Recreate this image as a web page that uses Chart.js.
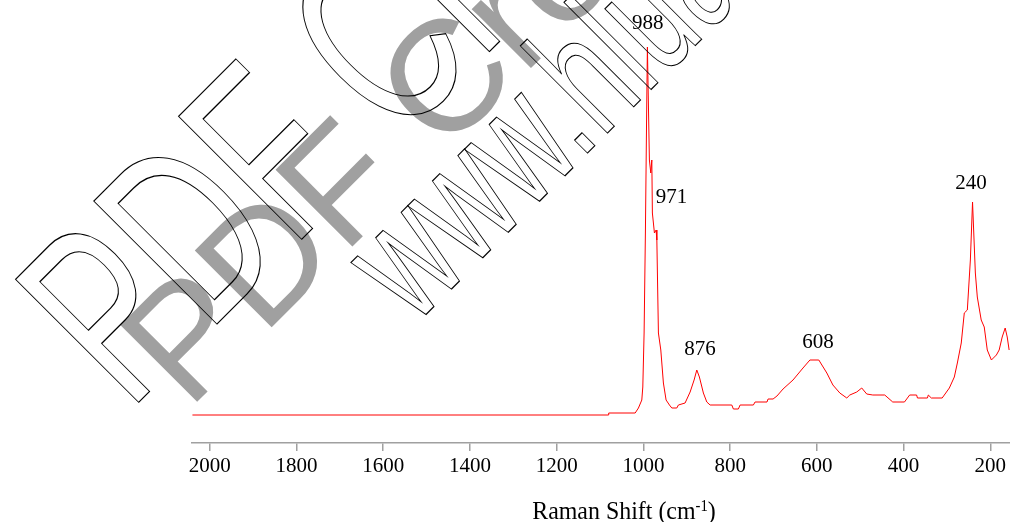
<!DOCTYPE html>
<html>
<head>
<meta charset="utf-8">
<title>Raman spectrum</title>
<script src="https://cdn.jsdelivr.net/npm/chart.js@4.4.1/dist/chart.umd.min.js"></script>
<style>
    html, body { margin: 0; padding: 0; background: #fff; }
    #chart-wrap { width: 1010px; height: 522px; position: relative; }
</style>
</head>
<body>
<div id="chart-wrap"><canvas id="spectrum" width="1010" height="522"></canvas></div>
<script>
// spectrum (Raman shift in cm-1, intensity in arbitrary units)
const wavenumbers = [
    2040, 1081, 1080, 1019, 1011.5, 1003.7, 1001.4, 998.4, 995.4, 992.2,
    990.8, 986.2, 983, 980.6, 979.3, 974.6, 970.7, 969, 965.4, 959.9,
    953.9, 947.7, 940, 934.5, 923, 919.3, 903.9, 892.3, 883.1, 876.9,
    870.9, 861.7, 853.8, 846.2, 796.2, 792.5, 781, 777, 746.4, 742.5,
    715, 712.5, 701, 692, 678, 655, 632, 616, 595.5, 577,
    563, 547, 531, 524, 508, 496.5, 485, 471, 443.5, 425,
    398, 386, 370, 368, 345, 343, 336, 311, 294.5, 283,
    276, 267, 260, 253, 246, 241, 234.5, 230, 221, 214,
    207, 197.5, 186, 179.6, 172.6, 165.7, 161, 156.6
];
const intensities = [
    28, 28, 30, 30, 35, 43, 56, 110, 210, 343,
    396, 283, 270, 283, 230, 210, 213, 203, 110, 93,
    60, 43, 38, 35, 35, 38, 40, 51, 63, 73,
    66, 50, 41, 38, 38, 34, 34, 38, 38, 41,
    41, 44, 44, 47, 54, 63, 75, 83, 83, 70,
    58, 50, 45, 48, 51, 55, 49, 48, 48, 41,
    41, 48, 48, 45, 45, 48, 45, 45, 55, 66,
    80, 100, 130, 133, 183, 241, 170, 146, 123, 116,
    93, 83, 88, 93, 106, 115, 106, 93
];
const xTicks = [2000, 1800, 1600, 1400, 1200, 1000, 800, 600, 400, 200];
const peakLabels = ['988', '971', '876', '608', '240'];

// where each peak label sits, in data units
const labelAnchors = [
    { x: 990, y: 420 },
    { x: 935.4, y: 246 },
    { x: 869.7, y: 94 },
    { x: 597.2, y: 101 },
    { x: 244.5, y: 260 }
];

const peakLabelPlugin = {
    id: 'peakLabels',
    afterDatasetsDraw(chart) {
        const ctx = chart.ctx;
        const xs = chart.scales.x;
        const ys = chart.scales.y;
        ctx.save();
        ctx.font = '21px "Liberation Serif"';
        ctx.fillStyle = '#000';
        ctx.textAlign = 'center';
        ctx.textBaseline = 'middle';
        peakLabels.forEach((txt, i) => {
            const a = labelAnchors[i];
            ctx.fillText(txt, xs.getPixelForValue(a.x), ys.getPixelForValue(a.y));
        });
        ctx.restore();
    }
};

// axis title with a raised "-1"; the original type is a little narrow, hence the squeeze
const axisTitlePlugin = {
    id: 'axisTitle',
    afterDraw(chart) {
        const ctx = chart.ctx;
        const main = 'Raman Shift (cm';
        const sup = '-1';
        const close = ')';
        const squeeze = 0.92;
        const baseY = 519;
        ctx.save();
        ctx.fillStyle = '#000';
        ctx.textAlign = 'left';
        ctx.textBaseline = 'alphabetic';
        ctx.font = '26px "Liberation Serif"';
        const w1 = ctx.measureText(main).width;
        const w3 = ctx.measureText(close).width;
        ctx.font = '16px "Liberation Serif"';
        const w2 = ctx.measureText(sup).width;
        const total = (w1 + w2 + w3) * squeeze;
        ctx.translate(624 - total / 2, baseY);
        ctx.scale(squeeze, 1);
        ctx.font = '26px "Liberation Serif"';
        ctx.fillText(main, 0, 0);
        ctx.font = '16px "Liberation Serif"';
        ctx.fillText(sup, w1, -8.5);
        ctx.font = '26px "Liberation Serif"';
        ctx.fillText(close, w1 + w2, 0);
        ctx.restore();
    }
};

// the "PDF Creator" stamp laid over the original picture
const stampPlugin = {
    id: 'stamp',
    afterDraw(chart) {
        const ctx = chart.ctx;
        const r = Math.SQRT1_2;
        ctx.save();
        ctx.font = '100px "Liberation Sans"';
        ctx.textAlign = 'left';
        ctx.textBaseline = 'alphabetic';

        ctx.setTransform(1.58 * r, -1.58 * r, 1.58 * r, 1.58 * r, 188, 411);
        ctx.fillStyle = '#a0a0a0';
        ctx.fillText('PDF Creator', 0, 0);

        ctx.strokeStyle = '#000';
        ctx.setTransform(1.66 * r, -1.66 * r, 2.53 * r, 2.53 * r, 129, 412);
        ctx.lineWidth = 0.5;
        ctx.strokeText('PDF Creator', 0, 0);

        ctx.setTransform(1.11 * r, -1.11 * r, 1.70 * r, 1.70 * r, 414.6, 326);
        ctx.lineWidth = 0.7;
        ctx.strokeText('www.hlua', 0, 0);
        ctx.restore();
    }
};

const points = wavenumbers.map((w, i) => ({ x: w, y: intensities[i] }));

new Chart(document.getElementById('spectrum'), {
    type: 'line',
    data: {
        datasets: [{
            label: 'Raman',
            data: points,
            borderColor: '#ff0000',
            borderWidth: 1,
            pointRadius: 0,
            tension: 0,
            fill: false
        }]
    },
    options: {
        responsive: false,
        animation: false,
        events: [],
        layout: { padding: { left: 192, right: 0, top: 0, bottom: 0 } },
        plugins: {
            legend: { display: false },
            tooltip: { enabled: false }
        },
        scales: {
            x: {
                type: 'linear',
                reverse: true,
                min: 154.6,
                max: 2041,
                afterBuildTicks: scale => {
                    scale.ticks = xTicks.map(v => ({ value: v }));
                },
                afterFit: scale => {
                    scale.height = 79;
                    scale.paddingLeft = 0;
                    scale.paddingRight = 0;
                },
                grid: {
                    display: true,
                    drawOnChartArea: false,
                    drawTicks: true,
                    tickLength: 8,
                    color: '#a0a0a0',
                    lineWidth: 1.5
                },
                border: { display: true, color: '#a0a0a0', width: 1.5 },
                ticks: {
                    color: '#000',
                    font: { family: 'Liberation Serif', size: 21 },
                    padding: 3,
                    maxRotation: 0,
                    autoSkip: false,
                    callback: v => String(v)
                }
            },
            y: { display: false, min: 0, max: 443 }
        }
    },
    plugins: [peakLabelPlugin, axisTitlePlugin, stampPlugin]
});
</script>
</body>
</html>
